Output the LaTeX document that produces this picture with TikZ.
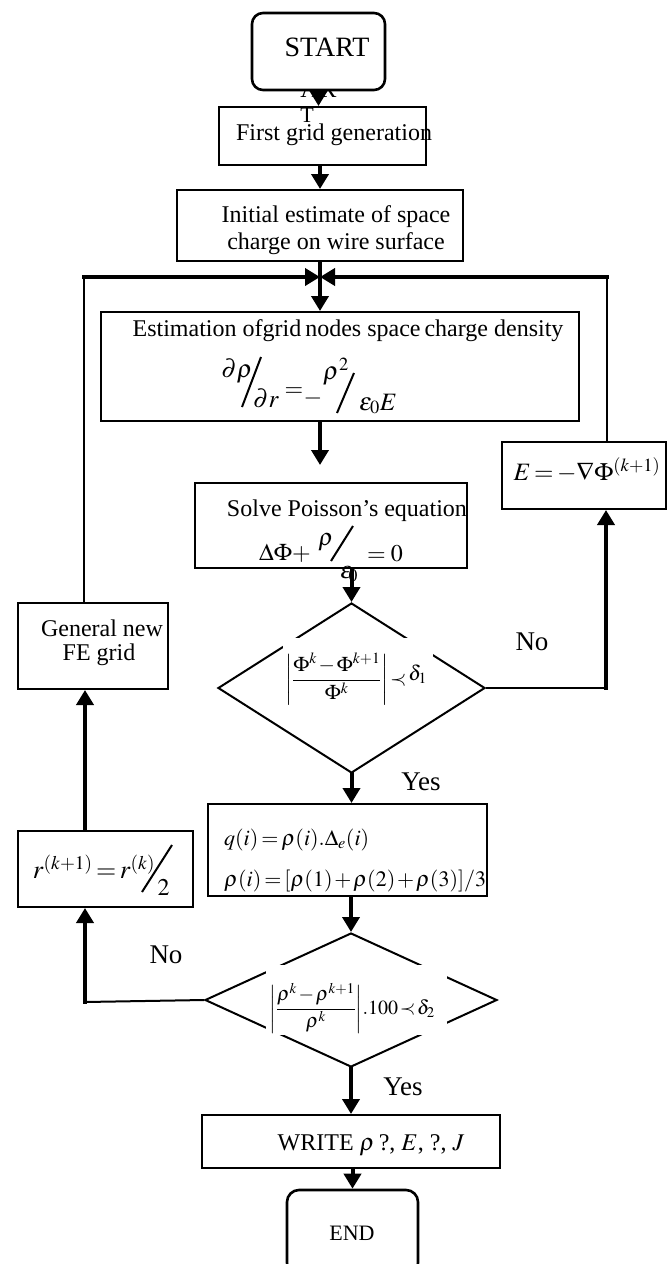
\documentclass[tikz,border=0pt]{standalone}
\usepackage{mathptmx}
\usepackage[no-math]{fontspec}
\setmainfont{Liberation Serif}
\usepackage{graphicx}
\usetikzlibrary{arrows.meta,shapes.geometric}
\newcommand\fs[1]{\fontsize{#1}{#1}\selectfont}
\newcommand\tightmath{\medmuskip=1.5mu\thickmuskip=2.5mu\thinmuskip=1mu}
\begin{document}
\begin{tikzpicture}[x=1pt,y=-1pt,
  box/.style={draw,line width=2pt,fill=white,inner sep=0pt},
  rbox/.style={box,rounded corners=11pt,line width=2.6pt},
  txt/.style={inner sep=0pt},
  arr/.style={line width=4pt,line cap=rect,-{Triangle[length=15pt,width=17pt]}},
  thk/.style={line width=4pt,line cap=rect},
  thn/.style={line width=2pt},
  lab/.style={inner sep=0pt,font=\fs{27}}]
\useasboundingbox (0,0) rectangle (669,1264);
\fill[white] (0,0) rectangle (669,1264);

% START and stray letters
\node[txt,font=\fs{26}] (ar) at (318.5,89) {AR};
\node[rbox,minimum width=133pt,minimum height=77pt] (start) at (318.5,51.5) {};
\node[txt,font=\fs{28}] (startt) at (327,47) {START};

\node[box,minimum width=207pt,minimum height=58pt] (first) at (322.5,136) {};
\node[txt,font=\fs{24}] (firstt) at (334,135) {First grid generation};
\node[txt,font=\fs{22}] (tt) at (307,115) {T};

\node[box,minimum width=286pt,minimum height=71pt] (init) at (320,225.5) {};
\node[txt,font=\fs{24}] (inita) at (336,216.5) {Initial estimate of space};
\node[txt,font=\fs{24}] (initb) at (336,243.5) {charge on wire surface};

% Estimation box
\node[box,minimum width=478pt,minimum height=109pt] (est) at (340,366.5) {};
\node[txt,font=\fs{24}] (estt) at (348,331) {Estimation ofgrid\,nodes space\,charge density};
\node[txt,font=\fs{25}] (e1) at (237,371) {$\partial\rho$};
\draw[thn] (242,407) -- (261,357);
\node[txt,font=\fs{25}] (e2) at (266,398) {$\partial r$};
\node[txt,font=\fs{24}] (e3) at (294,392) {$=$};
\node[txt,font=\fs{24}] (e4) at (313,398) {$-$};
\node[txt,font=\fs{25}] (e5) at (336,372) {$\rho^2$};
\draw[thn] (337,413) -- (354,373);
\node[txt,font=\fs{25}] (e6) at (378,404) {$\varepsilon_0E$};

% Poisson box
\node[box,minimum width=272pt,minimum height=85pt] (pois) at (331,525.5) {};
\node[txt,font=\fs{24}] (poist) at (347,511) {Solve Poisson’s equation};
\node[txt,font=\fs{24}] (p1) at (285,553) {$\Delta\Phi+$};
\node[txt,font=\fs{24}] (p2) at (326,542) {$\rho$};
\draw[thn] (331,561) -- (353,526);
\node[txt,font=\fs{24}] (p3) at (349,574) {$\varepsilon_{\!0}$};
\node[txt,font=\fs{24}] (p4) at (385,554) {$=0$};

% E box
\node[box,minimum width=164pt,minimum height=67pt] (ebox) at (584,475.5) {};
\node[txt,font=\fs{25}] (ebt) at (587,470) {\tightmath$E=-\nabla\Phi^{(k+1)}$};

% General new FE grid
\node[box,minimum width=150pt,minimum height=86pt] (gen) at (93,646) {};
\node[txt,font=\fs{24}] (gena) at (102,628) {General new};
\node[txt,font=\fs{24}] (genb) at (99,655) {FE grid};

% r box
\node[box,minimum width=175pt,minimum height=76pt] (rb) at (105.5,869) {};
\node[txt,font=\fs{26}] (rbt) at (94,867) {\tightmath$r^{(k+1)}=r^{(k)}$};
\draw[thn] (142,892) -- (172,845);
\node[txt,font=\fs{24}] (rb2) at (163.5,887.5) {$2$};

% q box
\node[box,minimum width=279pt,minimum height=92pt] (qb) at (347.5,850) {};
\node[txt,font=\fs{22},anchor=west] (qa) at (224,840) {\tightmath$q(i)=\rho(i).\Delta_e(i)$};
\node[txt,font=\fs{22},anchor=west] (qbb) at (224,881) {\tightmath$\rho(i)=[\rho(1)+\rho(2)+\rho(3)]/3$};

% WRITE and END
\node[box,minimum width=298pt,minimum height=53pt] (write) at (351,1141.5) {};
\node[txt,font=\fs{24}] (writet) at (371,1145) {WRITE $\rho$\,?, $E$, ?, $J$};
\node[rbox,rounded corners=12pt,minimum width=131pt,minimum height=85pt] (endb) at (352.5,1232.5) {};
\node[txt,font=\fs{22}] (endt) at (352,1233) {END};

% Diamonds
\node[diamond,draw,line width=2pt,inner sep=0pt,minimum width=267pt,minimum height=170pt] (d1) at (351.5,688) {};
\fill[white] (283,638) rectangle (433,715);
\node[txt,font=\fs{21}] (d1t) at (356,679) {\tightmath$\displaystyle\left|\frac{\Phi^{k}-\Phi^{k+1}}{\Phi^{k}}\right|\!\prec\!\raisebox{5pt}{$\delta_1$}$};

\node[diamond,draw,line width=2pt,inner sep=0pt,minimum width=292pt,minimum height=134pt] (d2) at (351,1000) {};
\fill[white] (266,965) rectangle (447,1035);
\node[txt,font=\fs{20}] (d2t) at (352,1008) {\tightmath$\displaystyle\left|\frac{\rho^{k}-\rho^{k+1}}{\rho^{k}}\right|\!.100\!\prec\!\delta_2$};

% labels
\node[lab] (no1) at (532,642) {No};
\node[lab] (no2) at (166,955) {No};
\node[lab] (yes1) at (421,782) {Yes};
\node[lab] (yes2) at (403,1087) {Yes};

% coordinates
\coordinate (c320) at (320,0);
\coordinate (J) at (320,277);
\coordinate (L) at (84,277);
\coordinate (R) at (607,277);
\coordinate (DR) at (606,688);
\coordinate (DL) at (85,1002);
\coordinate (P1) at (320,465);

% connectors
\draw[arr] (start.south) -- (start.south |- first.north);
\draw[arr] (c320 |- first.south) -- (c320 |- init.north);
\draw[thk] (c320 |- init.south) -- (J);
\draw[thn] (L |- gen.north) -- (L);
\draw[arr] (L) -- (J);
\draw[thn] (R |- ebox.north) -- (R);
\draw[arr] (R) -- (J);
\draw[arr] (J) -- (J |- est.north);
\draw[arr] (c320 |- est.south) -- (P1);
\draw[arr] (d1.north |- pois.south) -- (d1.north);
\draw[arr] (d1.south) -- (d1.south |- qb.north);
\draw[thn] (d1.east) -- (DR);
\draw[arr] (DR) -- (DR |- ebox.south);
\draw[arr] (d2.north |- qb.south) -- (d2.north);
\draw[arr] (d2.south) -- (d2.south |- write.north);
\draw[arr] (endb.north |- write.south) -- (endb.north);
\draw[thn] (d2.west) -- (DL);
\draw[arr] (DL) -- (DL |- rb.south);
\draw[arr] (DL |- rb.north) -- (DL |- gen.south);
\end{tikzpicture}
\end{document}
